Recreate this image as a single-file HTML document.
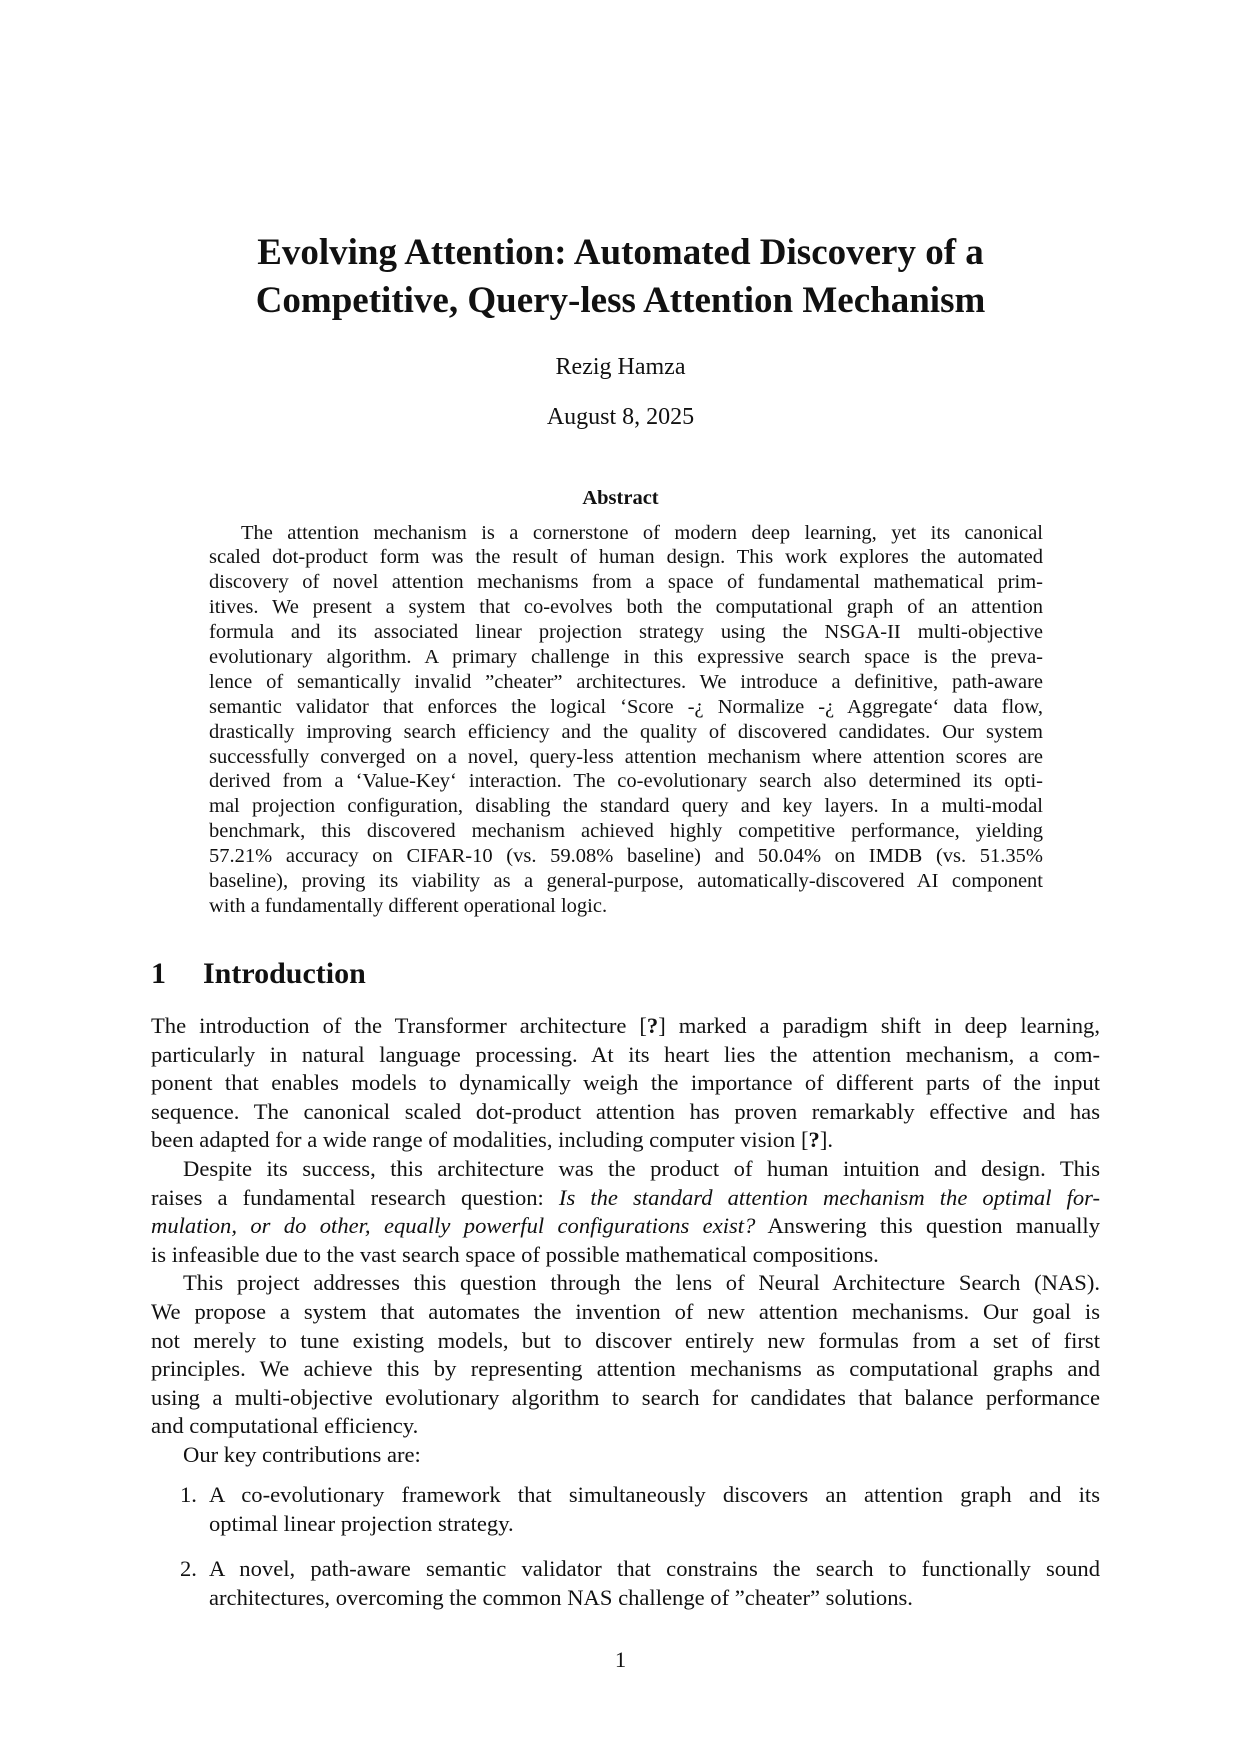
<!DOCTYPE html>
<html><head><meta charset="utf-8"><style>
body{margin:0;background:#fff;}
#page{position:relative;width:1241px;height:1754px;background:#fff;font-family:"Liberation Serif",serif;color:#111;overflow:hidden;}
.c{position:absolute;left:0;width:1241px;text-align:center;}
.blk{position:absolute;}
.blk div{text-align:justify;text-align-last:justify;}
.blk div.e{text-align-last:left;}
.abs div{height:24.9px;line-height:24.9px;font-size:20.5px;}
.bd div{height:28.6px;line-height:28.6px;font-size:22.6px;}
.ind{text-indent:32px;}
</style></head><body>
<div id="page">
<div class="c" style="top:229px;font-size:37px;font-weight:bold;line-height:48px;">Evolving Attention: Automated Discovery of a<br>Competitive, Query-less Attention Mechanism</div>
<div class="c" style="top:352px;font-size:24px;line-height:30px;">Rezig Hamza</div>
<div class="c" style="top:402px;font-size:24px;line-height:30px;">August 8, 2025</div>
<div class="c" style="top:485px;font-size:20.5px;font-weight:bold;line-height:26px;">Abstract</div>
<div class="blk abs" style="left:209px;width:834px;top:520.5px;">
<div class="ind">The attention mechanism is a cornerstone of modern deep learning, yet its canonical</div>
<div>scaled dot-product form was the result of human design. This work explores the automated</div>
<div>discovery of novel attention mechanisms from a space of fundamental mathematical prim-</div>
<div>itives. We present a system that co-evolves both the computational graph of an attention</div>
<div>formula and its associated linear projection strategy using the NSGA-II multi-objective</div>
<div>evolutionary algorithm. A primary challenge in this expressive search space is the preva-</div>
<div>lence of semantically invalid ”cheater” architectures. We introduce a definitive, path-aware</div>
<div>semantic validator that enforces the logical ‘Score -¿ Normalize -¿ Aggregate‘ data flow,</div>
<div>drastically improving search efficiency and the quality of discovered candidates. Our system</div>
<div>successfully converged on a novel, query-less attention mechanism where attention scores are</div>
<div>derived from a ‘Value-Key‘ interaction. The co-evolutionary search also determined its opti-</div>
<div>mal projection configuration, disabling the standard query and key layers. In a multi-modal</div>
<div>benchmark, this discovered mechanism achieved highly competitive performance, yielding</div>
<div>57.21% accuracy on CIFAR-10 (vs. 59.08% baseline) and 50.04% on IMDB (vs. 51.35%</div>
<div>baseline), proving its viability as a general-purpose, automatically-discovered AI component</div>
<div class="e">with a fundamentally different operational logic.</div>
</div>
<div class="blk" style="left:151px;top:955px;font-size:30px;font-weight:bold;line-height:38px;"><span>1</span><span style="position:absolute;left:52px;white-space:nowrap;">Introduction</span></div>
<div class="blk bd" style="left:151px;width:949px;top:1012px;">
<div>The introduction of the Transformer architecture [<b>?</b>] marked a paradigm shift in deep learning,</div>
<div>particularly in natural language processing. At its heart lies the attention mechanism, a com-</div>
<div>ponent that enables models to dynamically weigh the importance of different parts of the input</div>
<div>sequence. The canonical scaled dot-product attention has proven remarkably effective and has</div>
<div class="e">been adapted for a wide range of modalities, including computer vision [<b>?</b>].</div>
<div class="ind">Despite its success, this architecture was the product of human intuition and design. This</div>
<div>raises a fundamental research question: <i>Is the standard attention mechanism the optimal for-</i></div>
<div><i>mulation, or do other, equally powerful configurations exist?</i> Answering this question manually</div>
<div class="e">is infeasible due to the vast search space of possible mathematical compositions.</div>
<div class="ind">This project addresses this question through the lens of Neural Architecture Search (NAS).</div>
<div>We propose a system that automates the invention of new attention mechanisms. Our goal is</div>
<div>not merely to tune existing models, but to discover entirely new formulas from a set of first</div>
<div>principles. We achieve this by representing attention mechanisms as computational graphs and</div>
<div>using a multi-objective evolutionary algorithm to search for candidates that balance performance</div>
<div class="e">and computational efficiency.</div>
<div class="ind e">Our key contributions are:</div>
</div>
<div class="blk bd" style="left:209px;width:891px;top:1481px;">
<span style="position:absolute;left:-29px;top:0;font-size:22.6px;line-height:28.6px;">1.</span>
<div>A co-evolutionary framework that simultaneously discovers an attention graph and its</div>
<div class="e">optimal linear projection strategy.</div>
</div>
<div class="blk bd" style="left:209px;width:891px;top:1555px;">
<span style="position:absolute;left:-29px;top:0;font-size:22.6px;line-height:28.6px;">2.</span>
<div>A novel, path-aware semantic validator that constrains the search to functionally sound</div>
<div class="e">architectures, overcoming the common NAS challenge of ”cheater” solutions.</div>
</div>
<div class="c" style="top:1646px;font-size:22.6px;line-height:28px;">1</div>
</div>
</body></html>
